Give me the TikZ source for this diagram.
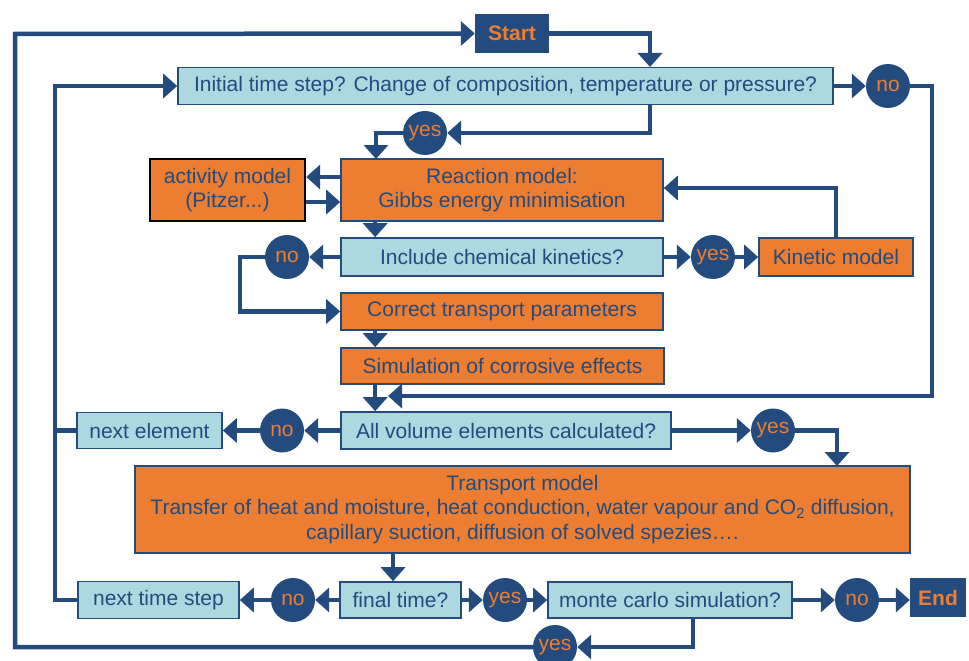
\documentclass[tikz,border=0pt]{standalone}
\usepackage{fontspec}
\setmainfont{Liberation Sans}
\usetikzlibrary{arrows.meta}

\definecolor{navy}{RGB}{35,75,125}
\definecolor{ora}{RGB}{237,125,49}
\definecolor{pale}{RGB}{173,216,224}

\begin{document}
\begin{tikzpicture}[x=1pt, y=-1pt, font=\fontsize{21}{24.5}\selectfont]

\tikzset{
  qbox/.style={draw=navy, fill=pale, line width=1.6pt, text=navy, align=center, inner sep=0pt},
  obox/.style={draw=navy, fill=ora, line width=1.6pt, text=navy, align=center, inner sep=0pt},
  term/.style={fill=navy, text=ora, font=\fontsize{21}{24}\selectfont\bfseries, inner sep=0pt},
  dot/.style={circle, fill=navy, text=ora, minimum size=44pt, inner sep=0pt},
  arr/.style={-{Triangle[length=14pt,width=24pt]}, draw=navy, line width=4.5pt},
  line/.style={draw=navy, line width=4.5pt}
}

\useasboundingbox (0,0) rectangle (969,661);

% --- Inicio e pergunta inicial ---
\node[term, minimum width=74pt, minimum height=39pt] (start) at (512,33.5) {Start};
\node[qbox, minimum width=655pt, minimum height=37pt] (init) at (505.5,86)
  {Initial time step? Change of composition, temperature or pressure?};
\node[dot] (noA) at (888,86) {no};
\node[dot] (yesA) at (425,133) {yes};

% --- Modelo de reacao ---
\node[obox, draw=black, line width=2.4pt, minimum width=155pt, minimum height=62pt] (activ) at (227.5,190)
  {activity model\\(Pitzer...)};
\node[obox, minimum width=322pt, minimum height=62pt] (react) at (502,190)
  {Reaction model:\\Gibbs energy minimisation};

% --- Cinetica ---
\node[qbox, minimum width=322pt, minimum height=38pt] (incl) at (502,257) {Include chemical kinetics?};
\node[dot] (noB) at (287,257) {no};
\node[dot] (yesB) at (713,257) {yes};
\node[obox, minimum width=154pt, minimum height=38pt] (kin) at (836,257) {Kinetic model};

\node[obox, minimum width=322pt, minimum height=37pt] (corr) at (502,311.5) {Correct transport parameters};
\node[obox, minimum width=323pt, minimum height=36pt] (sim) at (502.5,366) {Simulation of corrosive effects};

% --- Elementos de volume ---
\node[qbox, minimum width=330pt, minimum height=37pt] (allvol) at (506,430.5) {All volume elements calculated?};
\node[dot] (noC) at (282,430.5) {no};
\node[qbox, minimum width=145pt, minimum height=36pt] (nextel) at (149.5,430.5) {next element};
\node[dot] (yesC) at (773,430.5) {yes};

% --- Modelo de transporte ---
\node[obox, minimum width=775pt, minimum height=87pt] (trans) at (522.5,509.5)
  {Transport model\\Transfer of heat and moisture, heat conduction, water vapour and CO\textsubscript{2} diffusion,\\capillary suction, diffusion of solved spezies….};

% --- Passo de tempo ---
\node[qbox, minimum width=121pt, minimum height=36pt] (final) at (400.5,600) {final time?};
\node[dot] (noD) at (293,600) {no};
\node[qbox, minimum width=161pt, minimum height=37pt] (nextts) at (158.5,600) {next time step};
\node[dot] (yesD) at (505,600) {yes};
\node[qbox, minimum width=244pt, minimum height=36pt] (monte) at (670,600) {monte carlo simulation?};
\node[dot] (noE) at (857,600) {no};
\node[term, minimum width=56pt, minimum height=39pt] (endb) at (938,597.5) {End};
\node[dot] (yesF) at (555,647) {yes};

% --- Pontos auxiliares ---
\coordinate (initin) at (650,67);
\coordinate (initout) at (650,104);
\coordinate (reactin) at (376,159);
\coordinate (rightrail) at (932,396);
\coordinate (merge) at (388,396);
\coordinate (leftrail) at (55,86);
\coordinate (outerrail) at (15,34);
\coordinate (transin) at (837,466);
\coordinate (transout) at (393,553);

% --- Setas ---
\draw[arr] (start.east) -| (initin);
\draw[arr] (init.east) -- (noA);
\draw[arr] (noA.east) -| (rightrail) -- (merge);

\draw[arr] (initout) |- (yesA);
\draw[arr] (yesA.west) -| (reactin);

\draw[arr] ([yshift=13pt]react.west) -- ([yshift=13pt]activ.east);
\draw[arr] ([yshift=-12pt]activ.east) -- ([yshift=-12pt]react.west);
\draw[arr] ([xshift=35pt]react.south west) -- ([xshift=35pt]incl.north west);

\draw[arr] (incl.west) -- (noB);
\draw[arr] (noB.west) -- ++(-25,0) |- (corr.west);
\draw[arr] (incl.east) -- (yesB);
\draw[arr] (yesB) -- (kin.west);
\draw[arr] (kin.north) |- ([yshift=2pt]react.east);

\draw[arr] ([xshift=35pt]corr.south west) -- ([xshift=35pt]sim.north west);
\draw[arr] ([xshift=35pt]sim.south west) -- ([xshift=35pt]allvol.north west);

\draw[arr] (allvol.west) -- (noC);
\draw[arr] (noC) -- (nextel.east);
\draw[line] (nextel.west) -- (nextel.west -| leftrail);
\draw[arr] (allvol.east) -- (yesC);
\draw[arr] (yesC.east) -| (transin);

\draw[arr] (transout) -- (transout |- final.north);
\draw[arr] (final.west) -- (noD);
\draw[arr] (noD) -- (nextts.east);
\draw[arr] (nextts.west) -| (leftrail) -- (init.west);
\draw[arr] (final.east) -- (yesD);
\draw[arr] (yesD) -- (monte.west);
\draw[arr] (monte.east) -- (noE);
\draw[arr] (noE) -- (endb.west |- noE);
\draw[arr] ([xshift=23pt]monte.south) |- (yesF);
\draw[arr] (yesF.west) -| (outerrail) -- (start.west);

\end{tikzpicture}
\end{document}
